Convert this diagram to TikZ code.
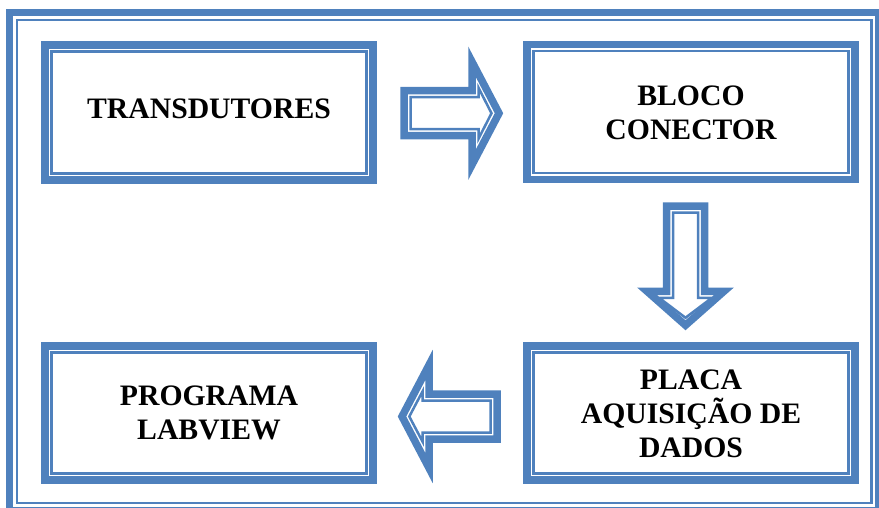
\documentclass[tikz,border=0pt]{standalone}
\usepackage{fontspec}
\setmainfont{Liberation Serif}
\usetikzlibrary{calc}
\definecolor{wordblue}{HTML}{4F81BD}
\tikzset{
  thickedge/.style={draw=wordblue, line width=7.5pt, line join=miter},
  thinedge/.style={draw=wordblue, line width=2.5pt, line join=miter},
  blockbox/.style={thickedge, rectangle, minimum width=328pt, minimum height=135pt, inner sep=0pt, outer sep=0pt},
  lbl/.style={align=center, font=\fontsize{29.7}{34}\selectfont\bfseries, inner sep=0pt}
}
\newcommand\innerframe[1]{\draw[thinedge] ([shift={(6.5,6.5)}]#1.north west) rectangle ([shift={(-6.5,-6.5)}]#1.south east);}
\begin{document}
\begin{tikzpicture}[x=1pt,y=-1pt]
\useasboundingbox (0,0) rectangle (879,508);
% outer frame
\draw[thickedge] (9.5,12.5) rectangle (879,510.5);
\draw[thinedge] (17,20) rectangle (871.5,503);
% boxes
\node[blockbox] (b1) at (209,112.5) {};
\node[blockbox] (b2) at (691,112) {};
\node[blockbox, minimum height=134pt] (b3) at (209,413) {};
\node[blockbox, minimum height=134pt] (b4) at (691,413) {};
\innerframe{b1}
\innerframe{b2}
\innerframe{b3}
\innerframe{b4}
% labels
\node[lbl] (t1) at ([yshift=3.5pt]b1.center) {TRANSDUTORES};
\node[lbl] (t2) at ([yshift=-1pt]b2.center) {BLOCO\\CONECTOR};
\node[lbl] (t3) at (b3.center) {PROGRAMA\\LABVIEW};
\node[lbl] (t4) at ([yshift=-1pt]b4.center) {PLACA\\AQUISIÇÃO DE\\DADOS};
% connector arrows
\coordinate (m12) at ($(b1.east)!0.5!(b2.west)$);
\coordinate (m24) at ($(b2.south)!0.5!(b4.north)$);
\coordinate (m34) at ($(b3.east)!0.5!(b4.west)$);
\begin{scope}[shift={(m12)}]
  \draw[thickedge] (-46,-21.5) -- (22,-21.5) -- (22,-50.5) -- (49,1) -- (22,52.5) -- (22,23.5) -- (-46,23.5) -- cycle;
  \draw[thinedge] (-39.5,-15) -- (28.5,-15) -- (28.5,-24.5) -- (41.5,1) -- (28.5,26.5) -- (28.5,17) -- (-39.5,17) -- cycle;
\end{scope}
\begin{scope}[shift={(m24)}]
  \draw[thickedge] (-24.5,-56.5) -- (13.5,-56.5) -- (13.5,28.5) -- (33,28.5) -- (-5.5,62.5) -- (-44,28.5) -- (-24.5,28.5) -- cycle;
  \draw[thinedge] (-18,-50) -- (7,-50) -- (7,35) -- (21,35) -- (-5.5,55) -- (-32,35) -- (-18,35) -- cycle;
\end{scope}
\begin{scope}[shift={(m34)}]
  \draw[thickedge] (47,-19) -- (-21,-19) -- (-21,-48) -- (-48,3.5) -- (-21,55) -- (-21,26) -- (47,26) -- cycle;
  \draw[thinedge] (40.5,-12.5) -- (-27.5,-12.5) -- (-27.5,-21.5) -- (-40.7,3.5) -- (-27.5,28.5) -- (-27.5,19.5) -- (40.5,19.5) -- cycle;
\end{scope}
\end{tikzpicture}
\end{document}
